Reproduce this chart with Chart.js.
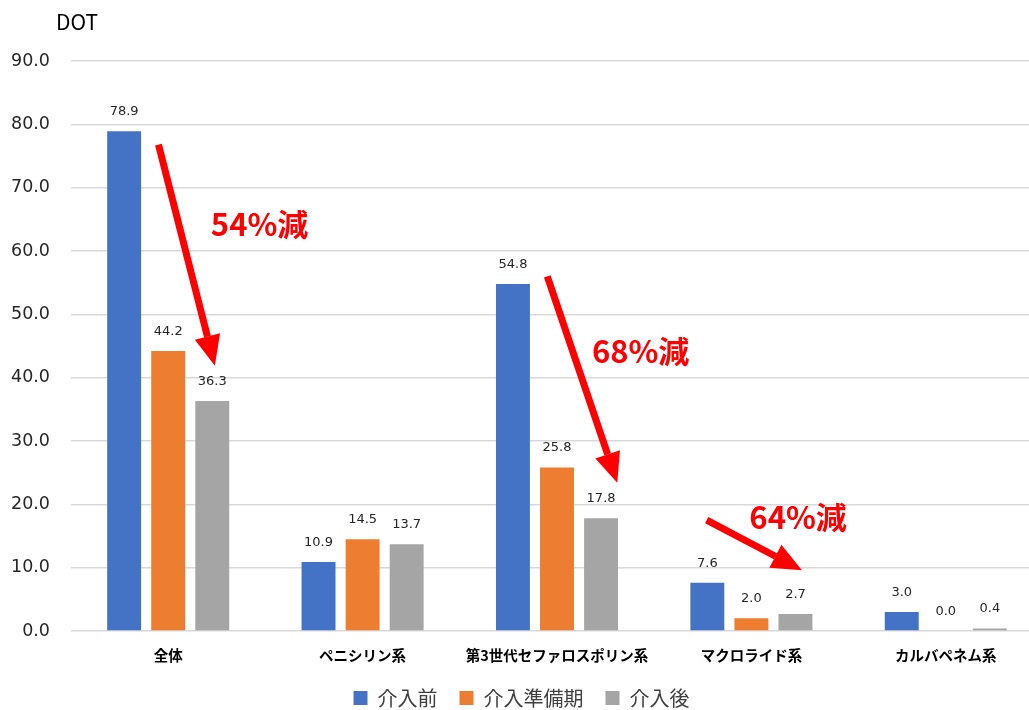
<!DOCTYPE html>
<html>
<head>
<meta charset="utf-8">
<script src="https://cdn.jsdelivr.net/npm/chart.js@4"></script>
<style>
  html, body { margin: 0; padding: 0; background: #fff; overflow: hidden; }
  #wrap { width: 1045px; height: 710px; position: relative; }
</style>
</head>
<body>
<div id="wrap"><canvas id="chart"></canvas></div>
<script>
var categories = ['全体', 'ペニシリン系', '第3世代セファロスポリン系', 'マクロライド系', 'カルバペネム系'];
var seriesNames = ['介入前', '介入準備期', '介入後'];
var before = [78.9, 10.9, 54.8, 7.6, 3.0];
var prep = [44.2, 14.5, 25.8, 2.0, 0.0];
var after = [36.3, 13.7, 17.8, 2.7, 0.4];
var colors = ['#4472C4', '#ED7D31', '#A5A5A5'];

// arrows: [fromIndex, fromValue, toIndex, toValue]
var arrows = [
    [-0.05, 76.8, 0.24, 41.9],
    [1.95, 56.0, 2.31, 23.4],
    [2.77, 17.5, 3.26, 9.6]
];
var notes = ['54%減', '68%減', '64%減'];
var notePos = [[0.47, 64.2], [2.43, 44.2], [3.24, 17.9]];

var valueLabels = {
    id: 'valueLabels',
    afterDatasetsDraw: function (chart) {
        var ctx = chart.ctx;
        ctx.save();
        ctx.font = '13px "DejaVu Sans"';
        ctx.fillStyle = '#262626';
        ctx.textAlign = 'center';
        ctx.textBaseline = 'bottom';
        chart.data.datasets.forEach(function (ds, i) {
            chart.getDatasetMeta(i).data.forEach(function (bar, j) {
                ctx.fillText(ds.data[j].toFixed(1), bar.x, bar.y - 13);
            });
        });
        ctx.restore();
    }
};

var arrowNotes = {
    id: 'arrowNotes',
    afterDraw: function (chart) {
        var ctx = chart.ctx;
        var xs = chart.scales.x, ys = chart.scales.y;
        ctx.save();
        ctx.strokeStyle = '#FF0000';
        ctx.fillStyle = '#FF0000';
        arrows.forEach(function (a) {
            var x0 = xs.getPixelForValue(a[0]), y0 = ys.getPixelForValue(a[1]);
            var x1 = xs.getPixelForValue(a[2]), y1 = ys.getPixelForValue(a[3]);
            var ang = Math.atan2(y1 - y0, x1 - x0);
            var headLen = 30, headW = 13;
            var bx = x1 - headLen * Math.cos(ang), by = y1 - headLen * Math.sin(ang);
            ctx.lineWidth = 7;
            ctx.beginPath();
            ctx.moveTo(x0, y0);
            ctx.lineTo(bx, by);
            ctx.stroke();
            ctx.beginPath();
            ctx.moveTo(x1, y1);
            ctx.lineTo(bx + headW * Math.sin(ang), by - headW * Math.cos(ang));
            ctx.lineTo(bx - headW * Math.sin(ang), by + headW * Math.cos(ang));
            ctx.closePath();
            ctx.fill();
        });
        ctx.font = 'bold 31px "Noto Sans CJK JP"';
        ctx.textAlign = 'center';
        ctx.textBaseline = 'middle';
        notes.forEach(function (t, i) {
            ctx.fillText(t, xs.getPixelForValue(notePos[i][0]), ys.getPixelForValue(notePos[i][1]));
        });
        // unit label
        ctx.fillStyle = '#000';
        ctx.font = '21px "Noto Sans CJK JP"';
        ctx.textAlign = 'left';
        ctx.textBaseline = 'middle';
        ctx.fillText('DOT', 56, 22);
        ctx.restore();
    }
};

new Chart(document.getElementById('chart'), {
    type: 'bar',
    data: {
        labels: categories,
        datasets: [before, prep, after].map(function (d, i) {
            return {
                label: seriesNames[i],
                data: d,
                backgroundColor: colors[i],
                categoryPercentage: 0.68,
                barPercentage: 0.77
            };
        })
    },
    options: {
        responsive: true,
        maintainAspectRatio: false,
        animation: false,
        layout: { padding: { top: 61, right: 2, bottom: -8, left: 0 } },
        scales: {
            x: {
                grid: { display: false },
                border: { display: false },
                afterFit: function (s) { s.height = 35; },
                ticks: {
                    color: '#000',
                    font: { family: 'Noto Sans CJK JP', size: 14.5, weight: 'bold' },
                    padding: 8,
                    maxRotation: 0,
                    autoSkip: false
                }
            },
            y: {
                min: 0,
                max: 90,
                afterFit: function (s) { s.width = 71; },
                ticks: {
                    stepSize: 10,
                    color: '#262626',
                    padding: 21,
                    font: { family: 'DejaVu Sans', size: 17.5 },
                    callback: function (v) { return v.toFixed(1); }
                },
                grid: { color: '#D9D9D9', lineWidth: 1.5, drawTicks: false },
                border: { display: false }
            }
        },
        plugins: {
            legend: {
                position: 'bottom',
                labels: {
                    boxWidth: 14,
                    boxHeight: 14,
                    color: '#404040',
                    padding: 22,
                    font: { family: 'Noto Sans CJK JP', size: 20 }
                }
            },
            tooltip: { enabled: false }
        }
    },
    plugins: [valueLabels, arrowNotes]
});
</script>
</body>
</html>
